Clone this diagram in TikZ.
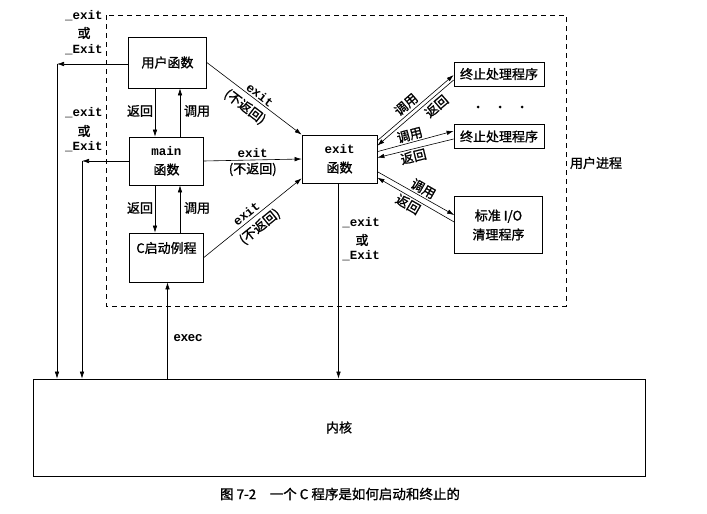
\documentclass[tikz,border=0pt]{standalone}
\usepackage{fontspec}
\setmainfont{Liberation Serif}
\setmonofont{Liberation Mono}
\setsansfont{Liberation Sans}
\newfontfamily\cjk[FakeBold=1.2]{Noto Sans CJK SC}
\usetikzlibrary{arrows.meta}
\newcommand\cjkf{\cjk\fontsize{13}{19}\selectfont}
\newcommand\ttf{\ttfamily\bfseries\fontsize{12.5}{14}\selectfont}
\begin{document}
\begin{tikzpicture}[x=1pt,y=-1pt,
  box/.style={draw, line width=0.7pt, inner sep=0pt, align=center, font=\cjkf},
  arr/.style={-{Latex[length=7pt,width=4.5pt]}, line width=0.6pt},
  lab/.style={font=\cjkf, inner sep=1.5pt},
  tt/.style={font=\ttf, inner sep=1.5pt},
  dot/.style={circle, fill, inner sep=0pt, minimum size=3pt}]
\useasboundingbox (0,0) rectangle (707,514);
% user process frame
\draw[line width=0.6pt, dash pattern=on 5pt off 4pt] (106,15) rectangle (566,306);
\node[lab] (up) at (596,163) {用户进程};
% boxes
\node[box, minimum width=78pt, minimum height=51pt] (user) at (167.5,62.5) {用户函数};
\node[box, minimum width=74pt, minimum height=48pt] (main) at (166.5,161) {{\ttf main}\\函数};
\node[box, minimum width=74pt, minimum height=49pt] (cstart) at (166.5,257.5) {};
\node[lab] (cstartt) at (166.5,248) {C启动例程};
\node[box, minimum width=75pt, minimum height=48pt] (exitf) at (339.5,159) {{\ttf exit}\\函数};
\node[box, minimum width=90pt, minimum height=24pt] (t1) at (499,74) {终止处理程序};
\node[box, minimum width=90pt, minimum height=24pt] (t2) at (499,136.5) {终止处理程序};
\node[box, minimum width=88pt, minimum height=57pt] (io) at (498.5,225) {标准 I/O\\清理程序};
\node[box, minimum width=612pt, minimum height=97pt] (kernel) at (339,427.5) {内核};
\node[dot] (d1) at (478,107) {};
\node[dot] (d2) at (500,107) {};
\node[dot] (d3) at (522,107) {};
% call / return between user, main, C start
\draw[arr] (155,0 |- user.south) -- (155,0 |- main.north);
\draw[arr] (180,0 |- main.north) -- (180,0 |- user.south);
\draw[arr] (155,0 |- main.south) -- (155,0 |- cstart.north);
\draw[arr] (180,0 |- cstart.north) -- (180,0 |- main.south);
\node[lab] (r1) at (140,111) {返回};
\node[lab] (c1l) at (197,111) {调用};
\node[lab] (r2) at (140,208) {返回};
\node[lab] (c2l) at (197,208) {调用};
% exit calls
\draw[arr] (user.east) -- (exitf.north west)
  node[pos=0.52, sloped, above=0pt, tt] {exit}
  node[pos=0.48, sloped, below=4pt, lab] {(不返回)};
\draw[arr] (main.east) -- (exitf.west)
  node[midway, above=1pt, tt] {exit}
  node[midway, below=1pt, lab] {(不返回)};
\draw[arr] (cstart.east) -- ([yshift=5pt]exitf.south west)
  node[pos=0.48, sloped, above=1pt, tt] {exit}
  node[pos=0.5, sloped, below=3pt, lab] {(不返回)};
% handlers
\draw[arr] ([yshift=-6pt]exitf.north east) -- ([yshift=-1pt]t1.west)
  node[pos=0.45, sloped, above=1pt, lab] {调用};
\draw[arr] ([yshift=-6pt]t1.west) -- ([yshift=-11pt]exitf.north east)
  node[pos=0.3, sloped, below=1pt, lab] {返回};
\draw[arr] ([yshift=-17pt]exitf.north east) -- ([yshift=5.5pt]t2.west)
  node[pos=0.45, sloped, above=0pt, lab] {调用};
\draw[arr] ([yshift=-2.5pt]t2.west) -- ([yshift=-23pt]exitf.north east)
  node[pos=0.55, sloped, below=0pt, lab] {返回};
\draw[arr] ([yshift=-37pt]exitf.north east) -- ([yshift=10pt]io.west)
  node[pos=0.55, sloped, above=0pt, lab] {调用};
\draw[arr] ([yshift=3pt]io.west) -- ([yshift=-43pt]exitf.north east)
  node[pos=0.55, sloped, below=0pt, lab] {返回};
% to kernel
\coordinate (k1) at (57,64);
\coordinate (k2) at (82,161);
\draw[arr] (user.west |- k1) -- (k1);
\draw[arr] (k1) -- (k1 |- kernel.north);
\draw[arr] (main.west) -- (k2);
\draw[arr] (k2) -- (k2 |- kernel.north);
\draw[arr] (338.5,0 |- exitf.south) -- (338.5,0 |- kernel.north);
\draw[arr] (167.5,0 |- kernel.north) -- (167.5,0 |- cstart.south);
\node[font=\sffamily\bfseries\fontsize{13}{15}\selectfont] (exec) at (188,338) {exec};
% _exit labels
\node[tt] (e1a) at (84,16) {\_exit};
\node[lab] (e1b) at (84,33) {或};
\node[tt] (e1c) at (84,50) {\_Exit};
\node[tt] (e2a) at (84,113) {\_exit};
\node[lab] (e2b) at (84,131) {或};
\node[tt] (e2c) at (84,147) {\_Exit};
\node[tt] (e3a) at (361,223) {\_exit};
\node[lab] (e3b) at (362,240) {或};
\node[tt] (e3c) at (361,256) {\_Exit};
% caption
\node[font=\cjk\fontsize{13.5}{15}\selectfont] (cap) at (340,494) {图 7-2\quad 一个 C 程序是如何启动和终止的};
\end{tikzpicture}
\end{document}
